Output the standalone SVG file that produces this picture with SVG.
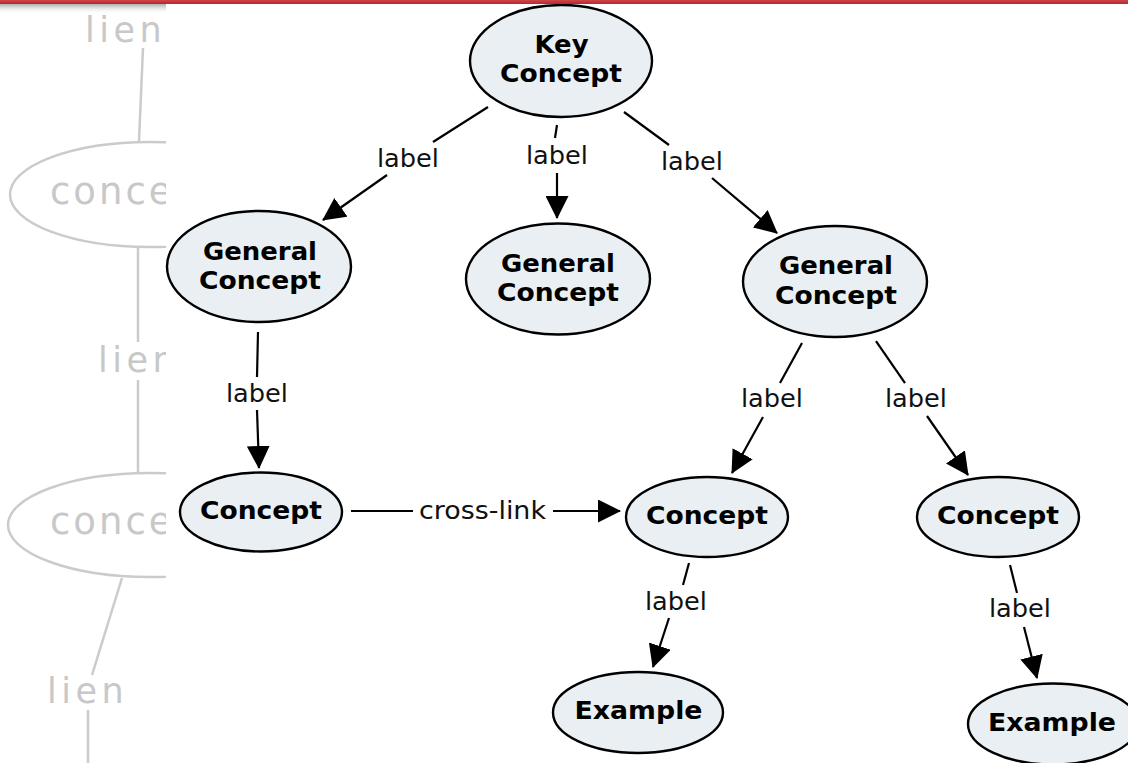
<svg xmlns="http://www.w3.org/2000/svg" width="1128" height="763" viewBox="0 0 1128 763">
  <defs>
    <style>
      .node ellipse { fill: #e9eff2; stroke: #000; stroke-width: 2.4; }
      .node text { font-family: "DejaVu Sans", Verdana, sans-serif; font-weight: bold; font-size: 25px; text-anchor: middle; fill: #000; }
      .links line { stroke: #000; stroke-width: 2.2; }
      .links .arrow { marker-end: url(#head); }
      .links text { font-family: "DejaVu Sans", Verdana, sans-serif; font-size: 25px; text-anchor: middle; fill: #111; }
      .ghost line, .ghost ellipse { stroke: #cbcbcb; stroke-width: 2.5; fill: none; }
      .ghost text { font-family: "DejaVu Sans", "Open Sans", sans-serif; font-size: 35px; fill: #c8c8c8; letter-spacing: 4.5px; }
      .ghost text.big { font-size: 37px; letter-spacing: 3px; }
    </style>
    <marker id="head" markerUnits="userSpaceOnUse" viewBox="0 0 23 23" markerWidth="23" markerHeight="23" refX="22" refY="11.5" orient="auto">
      <path d="M0,0 L23,11.5 L0,23 Z" fill="#000"/>
    </marker>
    <linearGradient id="shade" x1="0" y1="0" x2="0" y2="1">
      <stop offset="0" stop-color="#8a8a8a" stop-opacity="0.7"/>
      <stop offset="1" stop-color="#ffffff" stop-opacity="0"/>
    </linearGradient>
    <linearGradient id="bar" x1="0" y1="0" x2="0" y2="1">
      <stop offset="0" stop-color="#d04548"/>
      <stop offset="1" stop-color="#b3282c"/>
    </linearGradient>
    <clipPath id="leftPane">
      <rect x="0" y="0" width="166" height="763"/>
    </clipPath>
  </defs>

  <rect x="0" y="0" width="1128" height="763" fill="#fff"/>

  <!-- faded background map on the left margin -->
  <g class="ghost" clip-path="url(#leftPane)">
    <text x="85" y="42">lien</text>
    <line x1="143" y1="48" x2="139" y2="141"/>
    <ellipse cx="150" cy="194.5" rx="140" ry="52.5"/>
    <text class="big" x="50" y="204">conce</text>
    <line x1="138" y1="247" x2="138" y2="342"/>
    <text x="98" y="372">lien</text>
    <line x1="138" y1="380" x2="138" y2="472"/>
    <ellipse cx="150" cy="525" rx="142" ry="52"/>
    <text class="big" x="50" y="534">conce</text>
    <line x1="122" y1="578" x2="92" y2="675"/>
    <text x="47" y="703">lien</text>
    <line x1="88" y1="710" x2="88" y2="763"/>
    <rect x="0" y="4" width="166" height="10" fill="url(#shade)" stroke="none"/>
  </g>

  <!-- connectors -->
  <g id="connectors" class="links">
    <line x1="488" y1="107" x2="433" y2="142"/>
    <text x="408" y="167" textLength="62" lengthAdjust="spacingAndGlyphs">label</text>
    <line class="arrow" x1="387" y1="175" x2="323" y2="220"/>

    <line x1="557" y1="125" x2="555" y2="138"/>
    <text x="557" y="164" textLength="62" lengthAdjust="spacingAndGlyphs">label</text>
    <line class="arrow" x1="557" y1="173" x2="557" y2="218"/>

    <line x1="624" y1="112" x2="669" y2="145"/>
    <text x="692" y="170" textLength="62" lengthAdjust="spacingAndGlyphs">label</text>
    <line class="arrow" x1="712" y1="178" x2="777" y2="233"/>

    <line x1="258" y1="332" x2="257" y2="377"/>
    <text x="257" y="402" textLength="62" lengthAdjust="spacingAndGlyphs">label</text>
    <line class="arrow" x1="257" y1="410" x2="259" y2="468"/>

    <line x1="802" y1="343" x2="780" y2="383"/>
    <text x="772" y="407" textLength="62" lengthAdjust="spacingAndGlyphs">label</text>
    <line class="arrow" x1="763" y1="417" x2="732" y2="473"/>

    <line x1="876" y1="341" x2="905" y2="383"/>
    <text x="916" y="407" textLength="62" lengthAdjust="spacingAndGlyphs">label</text>
    <line class="arrow" x1="927" y1="416" x2="968" y2="475"/>

    <line x1="351" y1="511" x2="413" y2="511"/>
    <text x="482.5" y="519" textLength="127" lengthAdjust="spacingAndGlyphs">cross-link</text>
    <line class="arrow" x1="553" y1="511" x2="620" y2="511"/>

    <line x1="689" y1="563" x2="683" y2="585"/>
    <text x="676" y="610" textLength="62" lengthAdjust="spacingAndGlyphs">label</text>
    <line class="arrow" x1="669" y1="618" x2="653" y2="667"/>

    <line x1="1010" y1="565" x2="1017" y2="593"/>
    <text x="1020" y="617" textLength="62" lengthAdjust="spacingAndGlyphs">label</text>
    <line class="arrow" x1="1024" y1="627" x2="1037" y2="678"/>
  </g>

  <!-- concept nodes -->
  <g id="key-concept" class="node">
    <ellipse cx="561" cy="61" rx="91" ry="56"/>
    <text x="561.5" y="53" textLength="54" lengthAdjust="spacingAndGlyphs">Key</text>
    <text x="561" y="82" textLength="122" lengthAdjust="spacingAndGlyphs">Concept</text>
  </g>
  <g id="general-left" class="node">
    <ellipse cx="259" cy="266.5" rx="92" ry="55.5"/>
    <text x="260" y="260" textLength="114" lengthAdjust="spacingAndGlyphs">General</text>
    <text x="260" y="289" textLength="122" lengthAdjust="spacingAndGlyphs">Concept</text>
  </g>
  <g id="general-middle" class="node">
    <ellipse cx="558" cy="279" rx="92" ry="55.5"/>
    <text x="558" y="272" textLength="114" lengthAdjust="spacingAndGlyphs">General</text>
    <text x="558" y="301" textLength="122" lengthAdjust="spacingAndGlyphs">Concept</text>
  </g>
  <g id="general-right" class="node">
    <ellipse cx="835" cy="281.5" rx="92" ry="55.5"/>
    <text x="836" y="274" textLength="114" lengthAdjust="spacingAndGlyphs">General</text>
    <text x="836" y="304" textLength="122" lengthAdjust="spacingAndGlyphs">Concept</text>
  </g>
  <g id="concept-left" class="node">
    <ellipse cx="261" cy="512" rx="81" ry="39.5"/>
    <text x="261" y="519" textLength="122" lengthAdjust="spacingAndGlyphs">Concept</text>
  </g>
  <g id="concept-middle" class="node">
    <ellipse cx="707" cy="517" rx="81" ry="40"/>
    <text x="707" y="524" textLength="122" lengthAdjust="spacingAndGlyphs">Concept</text>
  </g>
  <g id="concept-right" class="node">
    <ellipse cx="998" cy="517" rx="81" ry="40"/>
    <text x="998" y="524" textLength="122" lengthAdjust="spacingAndGlyphs">Concept</text>
  </g>
  <g id="example-left" class="node">
    <ellipse cx="638" cy="712.5" rx="85" ry="40.5"/>
    <text x="638.5" y="719" textLength="128" lengthAdjust="spacingAndGlyphs">Example</text>
  </g>
  <g id="example-right" class="node">
    <ellipse cx="1053" cy="724" rx="85" ry="40.5"/>
    <text x="1052" y="731" textLength="128" lengthAdjust="spacingAndGlyphs">Example</text>
  </g>

  <!-- header bar -->
  <rect x="0" y="0" width="1128" height="4" fill="url(#bar)"/>
</svg>
